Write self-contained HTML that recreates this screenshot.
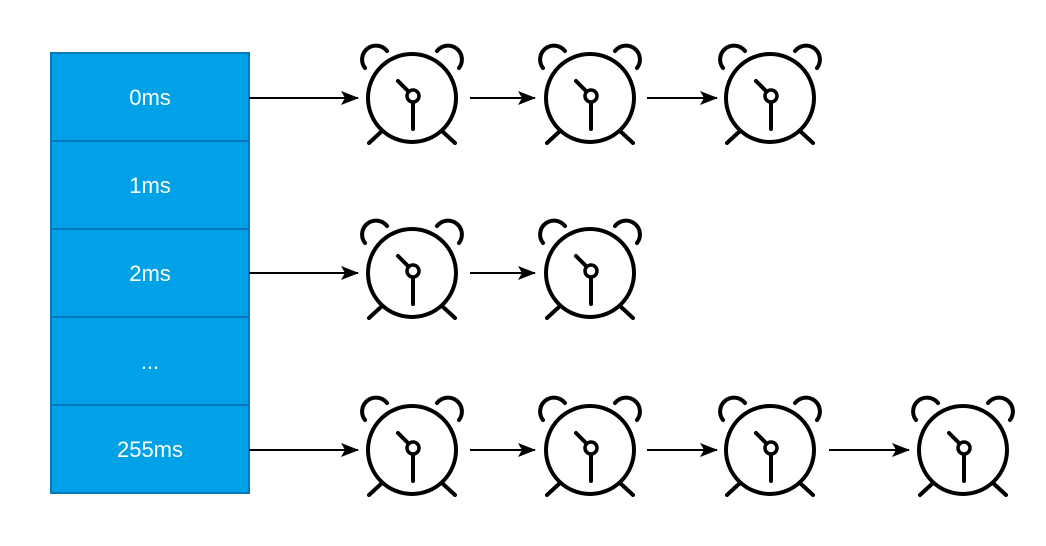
<!DOCTYPE html>
<html><head><style>
body{margin:0;background:#fff;width:1046px;height:546px;overflow:hidden}
svg{display:block}
text{font-family:"Liberation Sans",sans-serif;font-size:22px;fill:#fff}
</style></head><body>
<svg width="1046" height="546" viewBox="0 0 1046 546">
<defs>
<g id="clk" fill="none" stroke="#000" stroke-width="4" stroke-linecap="round">
<circle r="44"/>
<path d="M-47,-30 A13,13 0 0 1 -25,-47"/>
<path d="M47,-30 A13,13 0 0 0 25,-47"/>
<path d="M-30,33 L-43,45 M30,33 L43,45"/>
<path d="M-14,-17 L-4,-7"/>
<circle cx="1" cy="-2" r="6" stroke-width="3.5"/>
<path d="M1,5 L1,31"/>
</g>
<marker id="ar" markerWidth="18" markerHeight="14" refX="17" refY="7" orient="auto" markerUnits="userSpaceOnUse">
<path d="M0,0 L18,7 L0,14 L4,7 Z" fill="#000"/>
</marker>
</defs>
<g fill="#00a1e6" stroke="#0478bb" stroke-width="2">
<rect x="51" y="53" width="198" height="88"/>
<rect x="51" y="141" width="198" height="88"/>
<rect x="51" y="229" width="198" height="88"/>
<rect x="51" y="317" width="198" height="88"/>
<rect x="51" y="405" width="198" height="88"/>
</g>
<text x="150" y="105" text-anchor="middle">0ms</text>
<text x="150" y="193" text-anchor="middle">1ms</text>
<text x="150" y="281" text-anchor="middle">2ms</text>
<text x="150" y="369" text-anchor="middle">...</text>
<text x="150" y="457" text-anchor="middle">255ms</text>
<g stroke="#000" stroke-width="2" marker-end="url(#ar)">
<line x1="249" y1="98" x2="358" y2="98"/>
<line x1="470" y1="98" x2="535" y2="98"/>
<line x1="647" y1="98" x2="717" y2="98"/>
<line x1="249" y1="273" x2="358" y2="273"/>
<line x1="470" y1="273" x2="535" y2="273"/>
<line x1="249" y1="450" x2="358" y2="450"/>
<line x1="470" y1="450" x2="535" y2="450"/>
<line x1="647" y1="450" x2="717" y2="450"/>
<line x1="829" y1="450" x2="909" y2="450"/>
</g>
<use href="#clk" x="412" y="98"/>
<use href="#clk" x="590" y="98"/>
<use href="#clk" x="770" y="98"/>
<use href="#clk" x="412" y="273"/>
<use href="#clk" x="590" y="273"/>
<use href="#clk" x="412" y="450"/>
<use href="#clk" x="590" y="450"/>
<use href="#clk" x="770" y="450"/>
<use href="#clk" x="963" y="450"/>
</svg>
</body></html>
